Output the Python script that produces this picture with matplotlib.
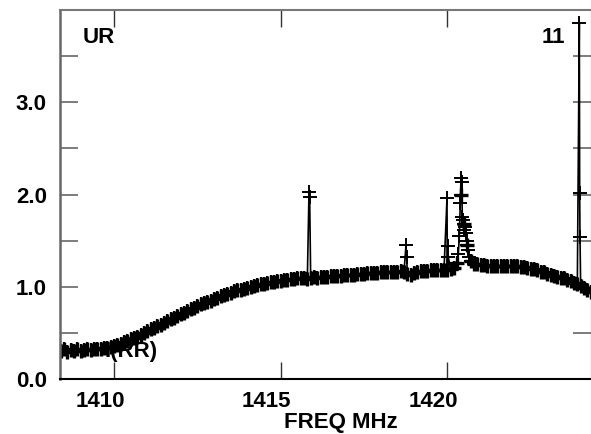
import numpy as np
import matplotlib
matplotlib.use("Agg")
import matplotlib.pyplot as plt
from matplotlib.transforms import ScaledTranslation

# ---- data ----
base_freq = np.round(np.arange(1408.4, 1424.35, 0.1), 2)
base_flux = [
    0.30, 0.32, 0.29, 0.31, 0.30, 0.32, 0.30,
    0.31, 0.32, 0.31, 0.33, 0.32, 0.33, 0.34, 0.34, 0.35,
    0.36, 0.37, 0.38, 0.40, 0.41, 0.43, 0.44, 0.46, 0.48, 0.50,
    0.52, 0.54, 0.55, 0.57, 0.59, 0.61, 0.63, 0.65, 0.66, 0.68,
    0.70, 0.72, 0.74, 0.76, 0.77, 0.79, 0.81, 0.82, 0.84, 0.85,
    0.87, 0.88, 0.90, 0.91, 0.92, 0.93, 0.95, 0.96, 0.97, 0.98,
    0.99, 1.00, 1.01, 1.02, 1.03, 1.03, 1.04, 1.05, 1.05, 1.06,
    1.06, 1.07, 1.07, 1.08, 1.08, 1.09, 1.09, 1.10, 1.08, 1.10,
    1.11, 1.10, 1.11, 1.11, 1.11, 1.12, 1.12, 1.12, 1.12, 1.13,
    1.13, 1.13, 1.13, 1.14, 1.14, 1.14, 1.15, 1.15, 1.15, 1.15,
    1.16, 1.16, 1.16, 1.16, 1.16, 1.16, 1.17, 1.16, 1.14, 1.13,
    1.15, 1.16, 1.17, 1.17, 1.17, 1.18, 1.18, 1.18, 1.18, 1.18,
    1.18, 1.19, 1.20, 1.26, 2.00, 1.68, 1.45, 1.28, 1.25, 1.25,
    1.24, 1.24, 1.23, 1.23, 1.23, 1.22, 1.22, 1.22, 1.22, 1.22,
    1.22, 1.22, 1.21, 1.21, 1.20, 1.19, 1.19, 1.18, 1.16, 1.16,
    1.14, 1.13, 1.12, 1.11, 1.10, 1.09, 1.07, 1.06, 1.04, 1.03,
    1.01, 0.99, 0.97, 0.94,
]
spike_freq = [1415.85, 1415.87,
              1418.76, 1418.78,
              1419.99, 1420.01, 1420.03,
              1420.33, 1420.36, 1420.39, 1420.41, 1420.43, 1420.45, 1420.47,
              1420.49, 1420.52, 1420.55, 1420.58, 1420.62, 1420.66,
              1423.96, 1423.97, 1423.98]
spike_flux = [2.03, 1.97,
              1.45, 1.32,
              1.96, 1.44, 1.32,
              1.35, 1.55, 1.91, 2.18, 2.14, 1.76, 1.72,
              1.62, 1.65, 1.58, 1.50, 1.40, 1.32,
              3.86, 2.02, 1.54]

x_ticks = [1410, 1415, 1420]
y_major = [0.0, 1.0, 2.0, 3.0]
y_all = [0.0, 0.5, 1.0, 1.5, 2.0, 2.5, 3.0, 3.5, 4.0]

freq = np.concatenate([base_freq, spike_freq])
flux = np.concatenate([base_flux, spike_flux])
order = np.argsort(freq, kind="stable")
freq, flux = freq[order], flux[order]

plt.rcParams['font.family'] = ['Liberation Sans', 'DejaVu Sans']
plt.rcParams['font.weight'] = 'bold'

fig = plt.figure(figsize=(5.91, 4.34), dpi=100)
ax = fig.add_axes([60/591, 1-379/434, 1-60/591, (379-10)/434])

# dense continuum channels (heavy crosses merge into a solid band)
ax.plot(base_freq, base_flux, linestyle='none', color='black',
        marker='+', ms=10.5, mew=2.4)
# full spectrum: connecting line with thin crosses
ax.plot(freq, flux, color='black', lw=1.2, marker='+', ms=9.5, mew=1.4)

ax.set_xlim(1408.38, 1424.31)
ax.set_ylim(0, 4.0)

ax.set_xticks(x_ticks)
ax.set_xticklabels([str(t) for t in x_ticks])
ax.set_yticks(y_all)
ax.set_yticklabels([f"{v:.1f}" if v in y_major else "" for v in y_all])

ax.tick_params(axis='x', direction='in', length=12, width=1, colors='#333333',
               top=True, bottom=True, labelsize=16, pad=8.5, labelcolor='black')
ax.tick_params(axis='y', direction='in', length=13, width=1.2, colors='#666666',
               left=True, right=True, labelsize=16, pad=9.5, labelcolor='black')
for lab in ax.get_xticklabels():
    lab.set_fontweight('bold')
    lab.set_transform(lab.get_transform() + ScaledTranslation(-14/100, 0, fig.dpi_scale_trans))
for lab in ax.get_yticklabels():
    lab.set_fontweight('bold')

ax.spines['left'].set_color('#666666')
ax.spines['left'].set_linewidth(1.8)
ax.spines['top'].set_color('#777777')
ax.spines['top'].set_linewidth(1.5)
ax.spines['bottom'].set_color('black')
ax.spines['bottom'].set_linewidth(1.5)
ax.spines['right'].set_color('#333333')

fig.text(83/591, 1-43/434, "UR", fontsize=16, fontweight='bold', ha='left', va='baseline')
fig.text(565/591, 1-43/434, "11", fontsize=16, fontweight='bold', ha='right', va='baseline')
fig.text(104/591, 1-357/434, "I(RR)", fontsize=16, fontweight='bold', ha='left', va='baseline')
fig.text(341/591, 1-428/434, "FREQ MHz", fontsize=16, fontweight='bold', ha='center', va='baseline')

fig.savefig("out.png", dpi=100)
